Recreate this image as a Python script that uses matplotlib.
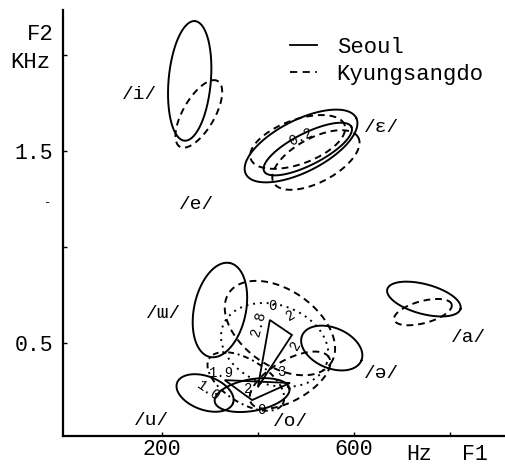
import numpy as np
import matplotlib
matplotlib.use("Agg")
import matplotlib.pyplot as plt
from matplotlib.lines import Line2D

FONT = ['Liberation Mono', 'DejaVu Sans Mono']
plt.rcParams['font.family'] = FONT

# ---- data (F1 in Hz, F2 in kHz) ----
# ellipse: centre F1, centre F2, semi-axes (Hz-equivalent, 1 kHz of F2 = 400 units), angle (deg)
ell_names = ['i_S', 'i_K', 'eps_S', 'e_S', 'e_K', 'eps_K', 'a_S', 'a_K',
             'schwa_S', 'u_bar_S', 'u_bar_K', 'dot_ell', 'u_S', 'o_S', 'o_K', 'u_K']
ell_f1 = [258, 277, 490, 504, 483, 521, 746, 744, 554, 321, 446, 435, 290, 388, 467, 375]
ell_f2 = [1.865, 1.693, 1.526, 1.510, 1.547, 1.453, 0.729, 0.661, 0.474, 0.672, 0.578, 0.490,
          0.240, 0.229, 0.307, 0.300]
ell_a = [125, 79, 129, 102, 104, 100, 79, 62, 67, 100, 129, 115, 62, 79, 94, 90]
ell_b = [44, 33, 54, 33, 46, 46, 31, 23, 42, 54, 79, 83, 35, 33, 42, 45]
ell_ang = [85, 60, 27, 27, 20, 28, -15, 15, -23, 78, -35, -20, -20, 10, 30, -32]
ell_style = ['solid', 'dashed', 'solid', 'solid', 'dashed', 'dashed', 'solid', 'dashed',
             'solid', 'solid', 'dashed', 'dotted', 'solid', 'solid', 'dashed', 'dashdot']

# triangles (F1 Hz, F2 kHz)
tri1_f1 = [425, 471, 400]
tri1_f2 = [0.620, 0.542, 0.270]
tri2_f1 = [331, 467, 388]
tri2_f2 = [0.307, 0.292, 0.203]

vowel_labels = ['/i/', '/e/', '/\u025b/', '/\u026f/', '/u/', '/o/', '/\u0259/', '/a/']
vowel_f1 = [154, 273, 658, 204, 179, 469, 658, 838]
vowel_f2 = [1.792, 1.219, 1.620, 0.656, 0.099, 0.089, 0.344, 0.531]

num_text = ['0.2', '0', '2', '2.8', '1.9', '2', '3', '1.0', '0', '2']
num_f1 = [490, 431, 469, 402, 325, 479, 450, 298, 408, 380]
num_f2 = [1.570, 0.695, 0.645, 0.600, 0.345, 0.490, 0.350, 0.250, 0.150, 0.262]
num_rot = [25, 0, 30, 75, 0, 60, 0, -35, 0, 0]

xticks = [200, 400, 600, 800]
xticklabels = ['200', '', '600', '']
yticks = [0.5, 1.0, 1.5, 2.0]
yticklabels = ['0.5', '', '1.5', '']

SCALE = 400.0

def ellipse_pts(c1, c2, a, b, ang, n=300):
    t = np.linspace(0, 2 * np.pi, n)
    x, y = a * np.cos(t), b * np.sin(t)
    th = np.deg2rad(ang)
    xr = x * np.cos(th) - y * np.sin(th)
    yr = x * np.sin(th) + y * np.cos(th)
    return c1 + xr, c2 + yr / SCALE

fig = plt.figure(figsize=(5.05, 4.67), dpi=100)
ax = fig.add_axes([63 / 505, 31 / 467, (505 - 63) / 505, (436 - 10) / 467])
ax.set_xlim(-6, 915)
ax.set_ylim(0.016, 2.234)

dash_map = {'solid': '-', 'dashed': (0, (3.5, 2.5)), 'dotted': (0, (1, 2.5)),
            'dashdot': (0, (3, 2, 1, 2))}
for c1, c2, a, b, ang, st in zip(ell_f1, ell_f2, ell_a, ell_b, ell_ang, ell_style):
    x, y = ellipse_pts(c1, c2, a, b, ang)
    ax.plot(x, y, color='black', lw=1.4, linestyle=dash_map[st])

ax.fill(tri1_f1, tri1_f2, fill=False, edgecolor='black', lw=1.3)
ax.fill(tri2_f1, tri2_f2, fill=False, edgecolor='black', lw=1.3)

for lab, x, y in zip(vowel_labels, vowel_f1, vowel_f2):
    ax.text(x, y, lab, fontsize=14, ha='center', va='center', family=FONT)

for s, x, y, r in zip(num_text, num_f1, num_f2, num_rot):
    ax.text(x, y, s, fontsize=10, ha='center', va='center', rotation=r, family=FONT)

for sp in ['top', 'right']:
    ax.spines[sp].set_visible(False)
for sp in ['left', 'bottom']:
    ax.spines[sp].set_linewidth(1.6)

ax.set_xticks(xticks)
ax.set_xticklabels(xticklabels)
ax.set_yticks(yticks)
ax.set_yticklabels(yticklabels)
ax.tick_params(direction='in', length=3, width=1, labelsize=15.5)
ax.tick_params(axis='y', pad=7)
ax.tick_params(axis='x', pad=2)

handles = [Line2D([], [], color='black', lw=1.3, linestyle='-'),
           Line2D([], [], color='black', lw=1.3, linestyle=(0, (4, 3)))]
ax.legend(handles, ['Seoul', 'Kyungsangdo'], loc='upper left',
          bbox_to_anchor=(290 / 505, 1 - 37 / 467), bbox_transform=fig.transFigure,
          frameon=False, fontsize=16, handlelength=1.2, handletextpad=0.9,
          labelspacing=0.25, borderpad=0, borderaxespad=0)

fig.text(40 / 505, 1 - 35 / 467, 'F2', fontsize=16, ha='center', va='center')
fig.text(30 / 505, 1 - 62 / 467, 'KHz', fontsize=16, ha='center', va='center')
fig.text(48 / 505, 1 - 203 / 467, '-', fontsize=9, ha='center', va='center')
fig.text(419 / 505, 1 - 455 / 467, 'Hz', fontsize=15.5, ha='center', va='center')
fig.text(475 / 505, 1 - 455 / 467, 'F1', fontsize=15.5, ha='center', va='center')

fig.savefig('out.png', dpi=100)
